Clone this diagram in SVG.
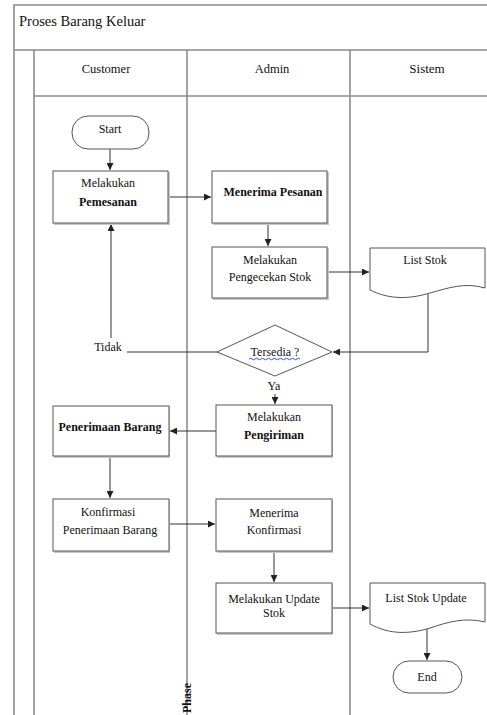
<svg xmlns="http://www.w3.org/2000/svg" width="487" height="715" viewBox="0 0 487 715">
<style>
.lane{stroke:#8c8c8c;stroke-width:1.6;fill:none}
.box{fill:#fff;stroke:#555;stroke-width:1}
.sh{fill:#c8c8c8;stroke:none}
.t{font-family:"Liberation Serif","Times New Roman",serif;font-size:12px;fill:#111;text-anchor:middle}
.b{font-weight:bold}
.c{stroke:#333;stroke-width:1;fill:none}
</style>
<defs>
<marker id="ah" viewBox="0 0 10 10" refX="10" refY="5" markerWidth="7" markerHeight="7" orient="auto" markerUnits="userSpaceOnUse">
<path d="M0,0 L10,5 L0,10 z" fill="#222"/>
</marker>
</defs>
<rect width="487" height="715" fill="#fff"/>
<g id="pool">
<path class="lane" d="M487,5 H14 V715 M14,50 H487 M34,50 V715 M34,96 H487 M187,50 V715 M350,50 V715"/>
<text class="t" x="19" y="26" style="text-anchor:start;font-size:14.5px">Proses Barang Keluar</text>
<text class="t" x="106" y="73" style="font-size:12.5px">Customer</text>
<text class="t" x="272" y="73" style="font-size:12.5px">Admin</text>
<text class="t" x="427" y="73" style="font-size:13px">Sistem</text>
<text class="t b" transform="translate(191,713) rotate(-90)" style="text-anchor:start;font-size:12px">Phase</text>
</g>
<g id="connectors">
<path class="c" d="M110,149 V170" marker-end="url(#ah)"/>
<path class="c" d="M168,197 H211" marker-end="url(#ah)"/>
<path class="c" d="M268,223 V246" marker-end="url(#ah)"/>
<path class="c" d="M327,272 H369" marker-end="url(#ah)"/>
<path class="c" d="M428,293 V352 H333" marker-end="url(#ah)"/>
<path class="c" d="M217,352 H127"/>
<path class="c" d="M111,338 V224" marker-end="url(#ah)"/>
<path class="c" d="M275,394 V404" marker-end="url(#ah)"/>
<path class="c" d="M216,431 H170" marker-end="url(#ah)"/>
<path class="c" d="M110,456 V498" marker-end="url(#ah)"/>
<path class="c" d="M169,524 H215" marker-end="url(#ah)"/>
<path class="c" d="M274,551 V582" marker-end="url(#ah)"/>
<path class="c" d="M332,608 H369" marker-end="url(#ah)"/>
<path class="c" d="M427,628 V660" marker-end="url(#ah)"/>
<text class="t" x="108" y="351">Tidak</text>
<text class="t" x="274" y="390">Ya</text>
</g>
<g id="start">
<rect class="box" x="72" y="116" width="77" height="33" rx="16" ry="16"/>
<text class="t" x="110" y="133">Start</text>
</g>
<g id="melakukan-pemesanan">
<rect class="sh" x="54" y="172" width="116" height="53"/>
<rect class="box" x="53" y="171" width="115" height="52"/>
<text class="t" x="108" y="187">Melakukan</text>
<text class="t b" x="108" y="206">Pemesanan</text>
</g>
<g id="menerima-pesanan">
<rect class="sh" x="213" y="172" width="116" height="53"/>
<rect class="box" x="212" y="171" width="115" height="52"/>
<text class="t b" x="273" y="196">Menerima Pesanan</text>
</g>
<g id="pengecekan-stok">
<rect class="sh" x="213" y="248" width="116" height="52"/>
<rect class="box" x="212" y="247" width="115" height="51"/>
<text class="t" x="270" y="264">Melakukan</text>
<text class="t" x="270" y="281">Pengecekan Stok</text>
</g>
<g id="list-stok">
<path class="box" d="M370,248 H485 V288 C465,282 448,288 430,293 C410,299 390,300 370,290 Z"/>
<text class="t" x="425" y="264">List Stok</text>
</g>
<g id="tersedia">
<path class="box" d="M217,352 L275,325 L332,352 L275,376 Z"/>
<text class="t" x="275" y="356">Tersedia ?</text>
<path d="M249,359 q1.5,-1.5 3,0 t3,0 t3,0 t3,0 t3,0 t3,0 t3,0 t3,0 t3,0 t3,0 t3,0 t3,0 t3,0 t3,0 t3,0 t3,0 t3,0" fill="none" stroke="#1f3fd6" stroke-width="0.9"/>
</g>
<g id="pengiriman">
<rect class="sh" x="217" y="406" width="116" height="52"/>
<rect class="box" x="216" y="405" width="116" height="51"/>
<text class="t" x="274" y="421">Melakukan</text>
<text class="t b" x="274" y="439">Pengiriman</text>
</g>
<g id="penerimaan-barang">
<rect class="sh" x="54" y="407" width="116" height="51"/>
<rect class="box" x="53" y="406" width="116" height="50"/>
<text class="t b" x="110" y="431">Penerimaan Barang</text>
</g>
<g id="konfirmasi">
<rect class="sh" x="54" y="500" width="116" height="53"/>
<rect class="box" x="53" y="499" width="116" height="52"/>
<text class="t" x="108" y="516">Konfirmasi</text>
<text class="t" x="110" y="534">Penerimaan Barang</text>
</g>
<g id="menerima-konfirmasi">
<rect class="sh" x="217" y="500" width="116" height="53"/>
<rect class="box" x="216" y="499" width="116" height="52"/>
<text class="t" x="274" y="517">Menerima</text>
<text class="t" x="274" y="534">Konfirmasi</text>
</g>
<g id="update-stok">
<rect class="sh" x="217" y="584" width="116" height="51"/>
<rect class="box" x="216" y="583" width="116" height="50"/>
<text class="t" x="274" y="603">Melakukan Update</text>
<text class="t" x="274" y="617">Stok</text>
</g>
<g id="list-stok-update">
<path class="box" d="M370,583 H485 V622 C465,617 448,622 430,628 C410,634 390,635 370,624 Z"/>
<text class="t" x="426" y="602">List Stok Update</text>
</g>
<g id="end">
<rect class="box" x="393" y="661" width="69" height="32" rx="16" ry="16"/>
<text class="t" x="427" y="681">End</text>
</g>
</svg>
